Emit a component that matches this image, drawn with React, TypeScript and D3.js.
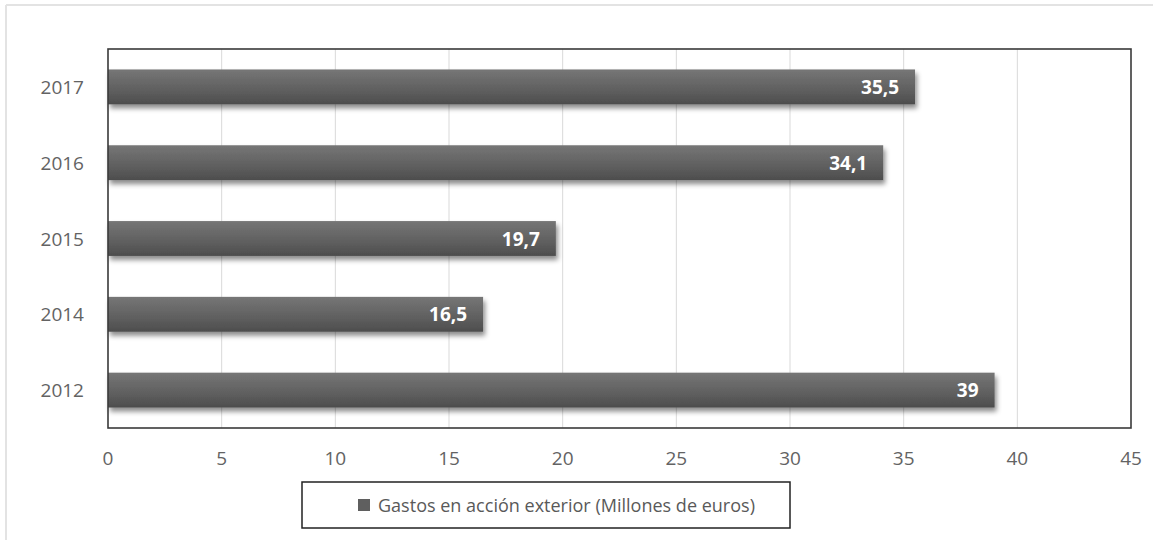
import React from 'react';
import { scaleLinear, scaleBand } from 'd3';

const years = ['2017', '2016', '2015', '2014', '2012'];
const gastos = [35.5, 34.1, 19.7, 16.5, 39];
const xTicks = [0, 5, 10, 15, 20, 25, 30, 35, 40, 45];
const serieName = 'Gastos en acción exterior (Millones de euros)';

const W = 1153;
const H = 540;
const font = "'Open Sans', sans-serif";

function App() {
  const x = scaleLinear().domain([0, 45]).range([108, 1131]);
  const y = scaleBand().domain(years).range([49, 428]).paddingInner(0.54).paddingOuter(0.27);
  const fmt = (v: number) => String(v).replace('.', ',');

  return (
    <svg width={W} height={H} style={{ position: 'absolute', left: 0, top: 0, background: '#fff' }}>
      <defs>
        <linearGradient id="barGrad" x1="0" y1="0" x2="0" y2="1">
          <stop offset="0%" stopColor="#767676" />
          <stop offset="55%" stopColor="#616161" />
          <stop offset="100%" stopColor="#4d4d4d" />
        </linearGradient>
        <filter id="shadow" x="-5%" y="-30%" width="110%" height="170%">
          <feDropShadow dx="2" dy="4" stdDeviation="2.5" floodColor="#000" floodOpacity="0.45" />
        </filter>
      </defs>

      {/* outer chart frame */}
      <line x1={6} y1={5} x2={W} y2={5} stroke="#e3e3e3" strokeWidth={2} />
      <line x1={6} y1={5} x2={6} y2={H} stroke="#e3e3e3" strokeWidth={2} />

      {/* gridlines */}
      {xTicks.slice(1, -1).map(t => (
        <line key={t} x1={x(t)} x2={x(t)} y1={49} y2={428} stroke="#d9d9d9" strokeWidth={1} />
      ))}

      {/* bars */}
      {years.map((yr, i) => (
        <rect key={yr} x={x(0)} y={y(yr)} width={x(gastos[i]) - x(0)} height={y.bandwidth()}
          fill="url(#barGrad)" filter="url(#shadow)" />
      ))}

      {/* value labels */}
      {years.map((yr, i) => (
        <text key={yr} x={x(gastos[i]) - 16} y={(y(yr) as number) + y.bandwidth() / 2}
          textAnchor="end" dominantBaseline="central" fill="#fff" fontFamily={font}
          fontWeight={700} fontSize={19}>{fmt(gastos[i])}</text>
      ))}

      {/* plot border */}
      <rect x={x(0)} y={49} width={x(45) - x(0)} height={428 - 49} fill="none" stroke="#3a3a3a" strokeWidth={1.6} />

      {/* category labels */}
      {years.map(yr => (
        <text key={yr} x={84} y={(y(yr) as number) + y.bandwidth() / 2} textAnchor="end"
          dominantBaseline="central" fill="#636363" fontFamily={font} fontSize={19}>{yr}</text>
      ))}

      {/* x tick labels */}
      {xTicks.map(t => (
        <text key={t} x={x(t)} y={465} textAnchor="middle" fill="#636363" fontFamily={font} fontSize={19}>{t}</text>
      ))}

      {/* legend */}
      <rect x={302} y={482} width={488} height={46} fill="#fff" stroke="#222" strokeWidth={1.5} />
      <rect x={358} y={499} width={12} height={12} fill="#5f5f5f" />
      <text x={378} y={512} fill="#595959" fontFamily={font} fontSize={19} textLength={377}
        lengthAdjust="spacingAndGlyphs">{serieName}</text>
    </svg>
  );
}

export default App;
